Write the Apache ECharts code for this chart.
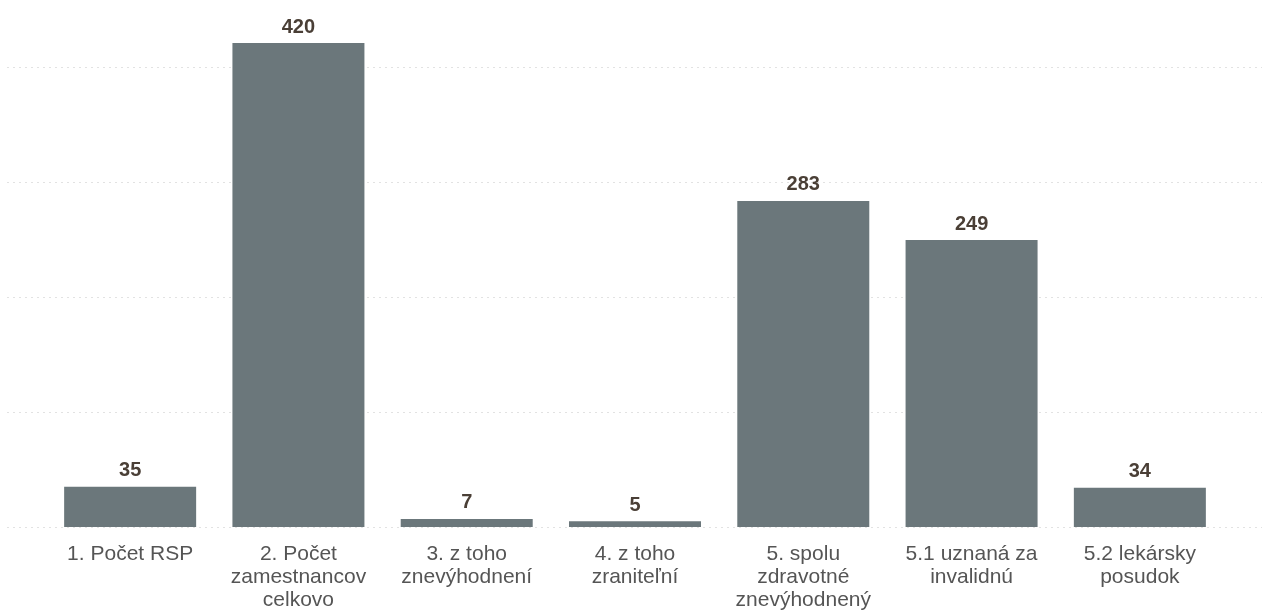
<!DOCTYPE html>
<html><head><meta charset="utf-8">
<script src="https://cdn.jsdelivr.net/npm/echarts@6/dist/echarts.min.js"></script>
<style>html,body{margin:0;padding:0;background:#fff;}#c{width:1263px;height:615px;}</style>
</head><body><div id="c"></div>
<script>
const categories = ['1. Počet RSP', '2. Počet\nzamestnancov\ncelkovo', '3. z toho\nznevýhodnení', '4. z toho\nzraniteľní', '5. spolu\nzdravotné\nznevýhodnený', '5.1 uznaná za\ninvalidnú', '5.2 lekársky\nposudok'];
const values = [35, 420, 7, 5, 283, 249, 34];
const yMax = 420;
const gridMax = 400;
const yStep = 100;

const chart = echarts.init(document.getElementById('c'));
chart.setOption({
  animation: false,
  grid: [
    {left: 46, right: 39, top: 43, bottom: 88},
    {left: 7, right: 1, top: 67, bottom: 88}
  ],
  xAxis: [
    {type: 'category', gridIndex: 0, data: categories,
     axisLine: {show: false}, axisTick: {show: false},
     axisLabel: {interval: 0, margin: 16, color: '#555', fontSize: 21, lineHeight: 23, fontFamily: 'Liberation Sans, Arial, sans-serif'}},
    {type: 'value', gridIndex: 1, show: false, min: 0, max: 1}
  ],
  yAxis: [
    {type: 'value', gridIndex: 0, min: 0, max: yMax, interval: yStep, show: false, splitLine: {show: false}},
    {type: 'value', gridIndex: 1, min: 0, max: gridMax, interval: yStep,
     axisLine: {show: false}, axisTick: {show: false}, axisLabel: {show: false},
     splitLine: {show: true, lineStyle: {color: '#e2e2e2', type: [2, 4], width: 1}}}
  ],
  series: [{
    type: 'bar', xAxisIndex: 0, yAxisIndex: 0, data: values,
    barWidth: 132,
    itemStyle: {color: '#6b777b'},
    label: {show: true, position: 'top', distance: 6, color: '#4a3f36', fontWeight: 'bold', fontSize: 20, fontFamily: 'Liberation Sans, Arial, sans-serif'}
  }]
});
</script></body></html>
